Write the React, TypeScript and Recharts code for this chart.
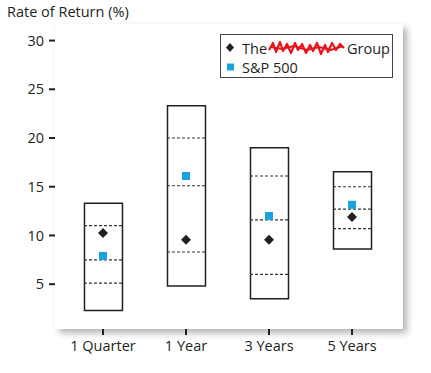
import React from "react";
import {
  ComposedChart,
  Bar,
  Scatter,
  XAxis,
  YAxis,
  ReferenceArea,
} from "recharts";

const categories = ["1 Quarter", "1 Year", "3 Years", "5 Years"];
const boxLow = [2.3, 4.8, 3.5, 8.6];
const boxHigh = [13.3, 23.3, 19.0, 16.55];
const quartileLow = [5.1, 8.3, 6.0, 10.7];
const median = [7.5, 15.1, 11.6, 12.7];
const quartileHigh = [11.0, 20.0, 16.1, 15.0];
const groupReturn = [10.25, 9.55, 9.55, 11.9];
const spReturn = [7.9, 16.1, 12.0, 13.15];
const yTicks = [5, 10, 15, 20, 25, 30];

const data = categories.map((name, i) => ({
  x: i + 1,
  name,
  range: [boxLow[i], boxHigh[i]],
  q1: quartileLow[i],
  med: median[i],
  q3: quartileHigh[i],
  group: groupReturn[i],
  sp: spReturn[i],
}));

const FONT = "'Open Sans', sans-serif";
const BOX_W = 38;

function DashLine(props: any) {
  const { cx, cy } = props;
  if (cx == null || cy == null) return null;
  return (
    <line
      x1={cx - BOX_W / 2}
      x2={cx + BOX_W / 2}
      y1={cy}
      y2={cy}
      stroke="#333"
      strokeWidth={1.2}
      strokeDasharray="3 2"
    />
  );
}

function Diamond(props: any) {
  const { cx, cy } = props;
  if (cx == null || cy == null) return null;
  const r = 5;
  return (
    <polygon
      points={`${cx},${cy - r} ${cx + r},${cy} ${cx},${cy + r} ${cx - r},${cy}`}
      fill="#231f20"
    />
  );
}

function Square(props: any) {
  const { cx, cy } = props;
  if (cx == null || cy == null) return null;
  return <rect x={cx - 4} y={cy - 4} width={8} height={8} fill="#1aa3dd" />;
}

export default function App() {
  return (
    <div
      style={{
        position: "absolute",
        left: 0,
        top: 0,
        width: 431,
        height: 373,
        background: "#fff",
        fontFamily: FONT,
        color: "#231f20",
      }}
    >
      {/* drop shadow behind the plot frame */}
      <div
        style={{
          position: "absolute",
          left: 55,
          top: 24,
          width: 348,
          height: 305,
          boxShadow: "4px 4px 7px rgba(0,0,0,0.3)",
        }}
      />
      <div
        style={{
          position: "absolute",
          left: 7,
          top: 2,
          fontSize: 14.5,
          lineHeight: "20px",
        }}
      >
        Rate of Return (%)
      </div>
      <div style={{ position: "absolute", left: 0, top: 0 }}>
        <ComposedChart
          width={431}
          height={373}
          data={data}
          margin={{ top: 24, right: 28, bottom: 14, left: 0 }}
        >
          <XAxis
            dataKey="x"
            type="number"
            domain={[0.422, 4.614]}
            ticks={[1, 2, 3, 4]}
            tickFormatter={(v: number) => categories[v - 1]}
            height={30}
            axisLine={false}
            tickSize={6}
            tickMargin={6}
            tickLine={{ stroke: "#231f20", strokeWidth: 2 }}
            tick={{ fill: "#231f20", fontSize: 14.5, fontFamily: FONT }}
            allowDataOverflow
          />
          <YAxis
            type="number"
            domain={[0.4, 31.7]}
            ticks={yTicks}
            width={55}
            axisLine={false}
            tickSize={6}
            tickMargin={5}
            tickLine={{ stroke: "#231f20", strokeWidth: 2 }}
            tick={{ fill: "#231f20", fontSize: 14.5, fontFamily: FONT }}
            allowDataOverflow
          />
          <ReferenceArea fill="none" stroke="#3a3a3a" strokeWidth={2} />
          <Bar
            dataKey="range"
            barSize={BOX_W}
            fill="#fff"
            stroke="#231f20"
            strokeWidth={1.5}
            isAnimationActive={false}
          />
          <Scatter dataKey="q1" shape={DashLine} isAnimationActive={false} />
          <Scatter dataKey="med" shape={DashLine} isAnimationActive={false} />
          <Scatter dataKey="q3" shape={DashLine} isAnimationActive={false} />
          <Scatter dataKey="group" shape={Diamond} isAnimationActive={false} />
          <Scatter dataKey="sp" shape={Square} isAnimationActive={false} />
        </ComposedChart>
      </div>
      {/* legend */}
      <div
        style={{
          position: "absolute",
          left: 220,
          top: 34,
          width: 171,
          height: 42,
          border: "1.5px solid #444",
          background: "#fff",
          fontSize: 14.5,
        }}
      >
        <div
          style={{
            position: "absolute",
            left: 4,
            top: 3,
            height: 20,
            display: "flex",
            alignItems: "center",
            whiteSpace: "nowrap",
          }}
        >
          <svg width={14} height={14} style={{ marginRight: 3 }}>
            <polygon points="5,2 9,6.5 5,11 1,6.5" fill="#231f20" />
          </svg>
          <span>The</span>
          <svg width={80} height={20} style={{ marginLeft: 0, marginRight: 0 }}>
            <path
              d="M2,12 L6,5 L9,14 L13,4 L16,13 L20,6 L24,15 L28,5 L31,12 L35,6 L39,15 L43,7 L46,13 L50,5 L54,16 L58,7 L61,14 L65,5 L69,12 L73,6 L77,10"
              fill="none"
              stroke="#e8141b"
              strokeWidth={2.2}
              strokeLinejoin="round"
            />
            <path
              d="M4,9 L15,11 L27,8 L40,12 L52,9 L64,12 L76,8"
              fill="none"
              stroke="#e8141b"
              strokeWidth={2}
            />
          </svg>
          <span>Group</span>
        </div>
        <div
          style={{
            position: "absolute",
            left: 4,
            top: 22,
            height: 20,
            display: "flex",
            alignItems: "center",
            whiteSpace: "nowrap",
          }}
        >
          <svg width={14} height={14} style={{ marginRight: 3 }}>
            <rect x={2} y={3.5} width={7} height={7} fill="#1aa3dd" />
          </svg>
          <span>S&amp;P 500</span>
        </div>
      </div>
    </div>
  );
}
